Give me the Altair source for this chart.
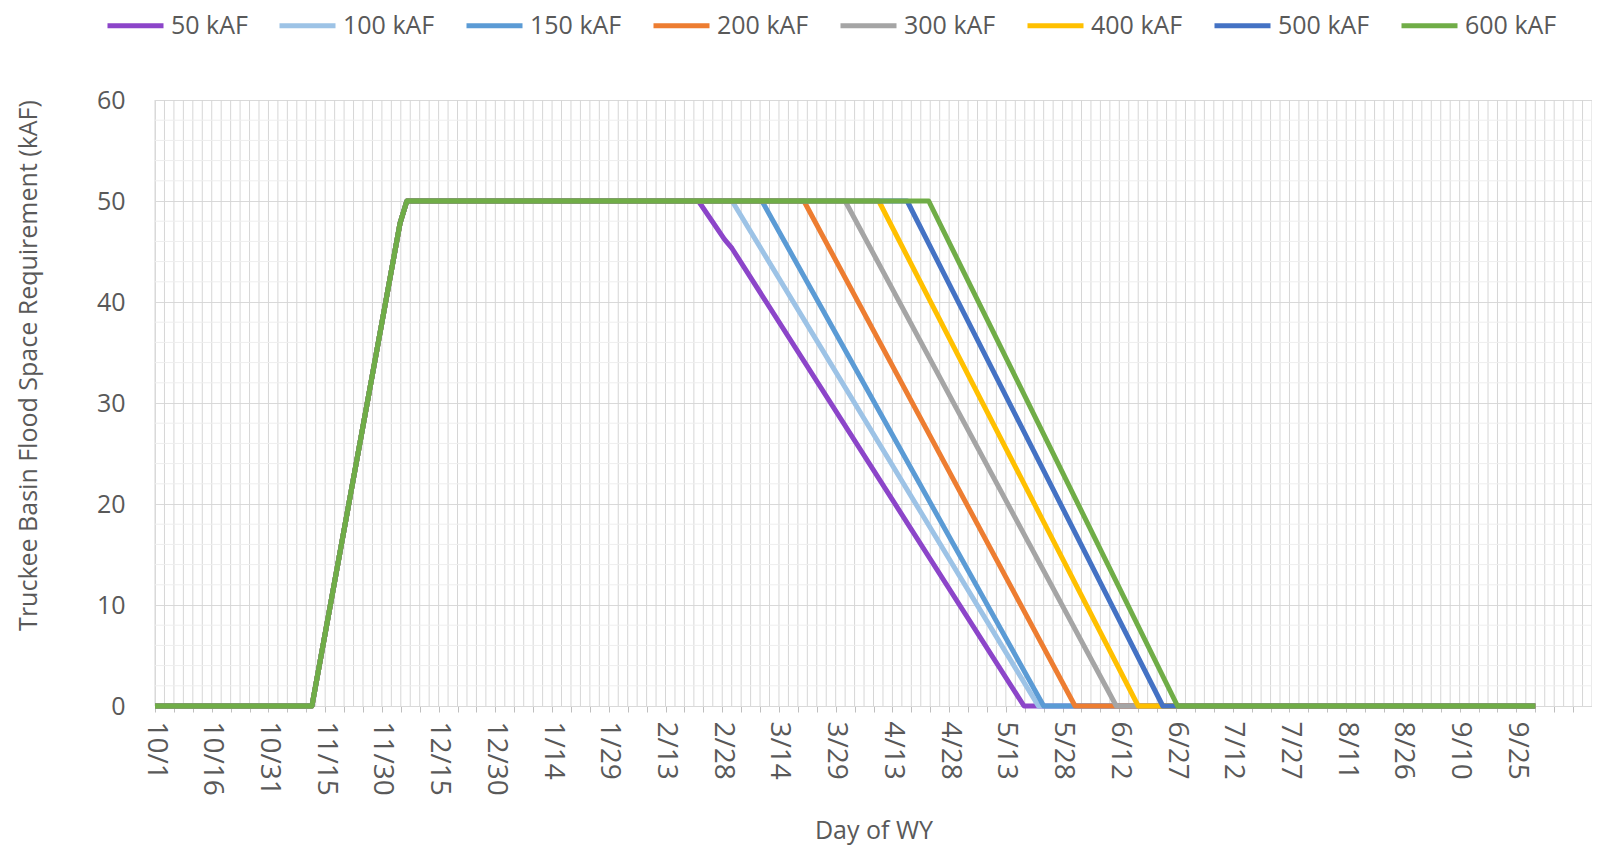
import json
import altair as alt
import pandas as pd

# ---- data ----
series = ["50 kAF", "100 kAF", "150 kAF", "200 kAF", "300 kAF", "400 kAF", "500 kAF", "600 kAF"]
colors = ["#8C45C9", "#9DC3E6", "#5B9BD5", "#ED7D31", "#A5A5A5", "#FFC000", "#4472C4", "#70AD47"]

# shared fill-up ramp (day of water year, kAF)
rise_days = [41.5, 64.8, 66.6]
rise_vals = [0.0, 47.8, 50.0]

# drawdown from 50 kAF to 0 for each series
fall_start = [143.7, 152.6, 160.5, 171.6, 182.5, 191.4, 198.9, 204.6]
fall_end = [229.8, 233.6, 235.0, 243.3, 254.2, 260.0, 266.5, 270.4]

# small kink on the 50 kAF curve
kink_days = [150.6, 152.6]
kink_vals = [46.2, 45.3]

wy_last_day = 365
tick_labels = ["10/1", "10/16", "10/31", "11/15", "11/30", "12/15", "12/30", "1/14", "1/29",
               "2/13", "2/28", "3/14", "3/29", "4/13", "4/28", "5/13", "5/28", "6/12", "6/27",
               "7/12", "7/27", "8/11", "8/26", "9/10", "9/25"]

x_max = 380
y_ticks = [0, 10, 20, 30, 40, 50, 60]

# ---- build tables ----
rows = []
for i, s in enumerate(series):
    pts = [(0, 0.0)]
    pts += list(zip(rise_days, rise_vals))
    pts.append((fall_start[i], 50.0))
    if i == 0:
        pts += list(zip(kink_days, kink_vals))
    pts.append((fall_end[i], 0.0))
    pts.append((wy_last_day, 0.0))
    for d, v in pts:
        rows.append({"series": s, "day": d, "kaf": v, "k": i})
df = pd.DataFrame(rows)

vgrid = pd.DataFrame({"day": [i * 2.5 for i in range(int(x_max / 2.5) + 1)]})
hgrid = pd.DataFrame({"kaf": [v for v in range(0, 61, 2) if v % 10 != 0]})

txt = "#595959"
font = "Open Sans"

label_expr = ("datum.value % 15 === 0 ? " + json.dumps(tick_labels) +
              "[datum.value / 15] : ''")

x_scale = alt.Scale(domain=[0, x_max], nice=False, zero=False)
y_scale = alt.Scale(domain=[0, 60], nice=False)

x_axis = alt.Axis(values=list(range(0, x_max, 5)), labelExpr=label_expr, grid=False,
                  domain=True, domainColor="#D9D9D9", domainWidth=1,
                  ticks=True, tickColor="#BFBFBF", tickSize=6,
                  labelAngle=90, labelFontSize=28, labelColor=txt, labelFont=font,
                  labelPadding=9, labelOverlap=False, labelFlush=False,
                  title="Day of WY", titleFontSize=25, titleFontWeight="normal",
                  titleColor=txt, titleFont=font, titleY=124, titleBaseline="middle")
y_axis = alt.Axis(values=y_ticks, grid=True, gridColor="#D9D9D9", gridWidth=1,
                  domain=False, ticks=False, labelPadding=30, labelFontSize=25,
                  labelColor=txt, labelFont=font,
                  title="Truckee Basin Flood Space Requirement (kAF)", titleFontSize=25,
                  titleFontWeight="normal", titleColor=txt, titleFont=font,
                  titleX=-127, titleY=265, titleBaseline="middle")

vlines = alt.Chart(vgrid).mark_rule(color="#D6D6D6", strokeWidth=1).encode(
    x=alt.X("day:Q", scale=x_scale, axis=x_axis)
)
hlines = alt.Chart(hgrid).mark_rule(color="#EEEEEE", strokeWidth=1).encode(
    y=alt.Y("kaf:Q", scale=y_scale, axis=y_axis)
)
lines = alt.Chart(df).mark_line(strokeWidth=5, strokeJoin="round", strokeCap="butt").encode(
    x=alt.X("day:Q", scale=x_scale, axis=x_axis),
    y=alt.Y("kaf:Q", scale=y_scale, axis=y_axis),
    color=alt.Color("series:N", scale=alt.Scale(domain=series, range=colors),
                    legend=alt.Legend(orient="none", legendX=-50, legendY=-105,
                                      direction="horizontal", columns=8, title=None,
                                      symbolType="stroke", symbolSize=3136,
                                      symbolStrokeWidth=5, labelFontSize=25,
                                      labelColor=txt, labelFont=font, columnPadding=21,
                                      labelOffset=5)),
    detail="k:O",
)

chart = alt.layer(vlines, hlines, lines).properties(
    width=1437, height=606,
    autosize=alt.AutoSizeParams(type="none"),
    padding={"left": 147, "top": 92, "right": 0, "bottom": 140},
).configure_view(stroke=None).configure(font=font)

chart.save("out.html", embed_options={"renderer": "svg", "actions": False})
